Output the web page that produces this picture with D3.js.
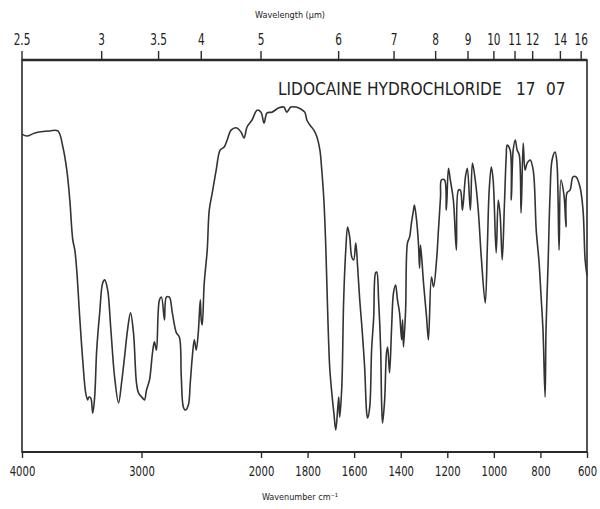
<!DOCTYPE html>
<html>
<head>
<meta charset="utf-8">
<script src="https://cdn.jsdelivr.net/npm/d3@7"></script>
<style>
html,body{margin:0;padding:0;background:#fff;}
svg{display:block;}
text{font-family:"Liberation Sans Narrow","Arial Narrow","DejaVu Sans Condensed","Liberation Sans",sans-serif;fill:#222;}
</style>
</head>
<body>
<svg id="chart" width="600" height="509"></svg>
<script>
// Wavenumber (cm-1) and transmittance (%)
const wavenumber = [4000,3958,3892,3767,3700,3658,3625,3600,3575,3558,3542,3517,3492,3467,3450,3442,3425,3408,3392,3375,3350,3325,3308,3283,3258,3225,3192,3167,3142,3117,3092,3067,3042,3025,2992,2975,2958,2933,2908,2892,2875,2850,2833,2808,2792,2767,2742,2708,2683,2667,2650,2633,2608,2592,2575,2558,2542,2525,2508,2500,2492,2475,2450,2433,2408,2375,2342,2308,2283,2250,2208,2167,2142,2117,2075,2033,2000,
1987,1974,1953,1923,1902,1889,1872,1850,1829,1812,1803,1790,1773,1760,1747,1739,1730,1722,1713,1705,1696,1687,1679,1670,1666,1662,1653,1645,1636,1628,1619,1610,1602,1593,1585,1576,1568,1555,1546,1542,1533,1525,1516,1508,1503,1495,1486,1482,1478,1469,1461,1456,1448,1439,1431,1422,1414,1405,1396,1392,1388,1379,1371,1362,1354,1345,1341,1332,1324,1319,1315,1302,1289,1281,1268,1259,1246,1238,1229,1225,1212,1204,1195,1187,1174,1161,1152,1144,1135,1122,1114,1101,1092,1080,1067,1054,1037,1028,1020,1011,1003,990,981,973,964,955,947,943,930,925,917,908,900,891,883,874,866,857,844,831,818,806,797,789,780,776,767,759,750,737,729,720,712,699,690,686,673,660,647,630,617,608,600];
const transmittance = [81.1,80.6,81.4,81.9,81.9,77.8,71.9,64.3,54.1,51.5,46.4,34.4,23.5,15.1,13.3,14.0,13.8,9.9,14.0,26.0,35.5,43.1,43.9,41.3,31.9,19.1,12.5,17.6,24.2,31.1,35.5,30.4,17.6,15.1,13.8,13.3,15.8,18.4,25.3,28.1,26.0,38.8,39.5,33.7,39.5,39.5,35.5,30.4,29.3,19.1,11.5,10.7,12.0,17.6,24.2,28.6,26.0,30.4,38.8,33.7,32.4,43.1,51.5,61.7,66.1,71.9,77.0,77.8,79.6,82.1,82.7,81.6,80.1,82.9,84.7,87.2,86.7,
83.9,86.5,86.7,87.8,88.0,86.7,88.0,88.0,87.5,86.7,84.7,83.4,82.1,80.4,77.0,71.9,64.3,52.8,34.4,21.7,15.1,9.9,5.6,11.5,14.0,8.9,16.6,38.8,51.5,57.4,54.8,49.7,49.0,53.3,47.2,38.8,32.9,21.7,9.9,8.7,11.5,26.0,34.4,45.7,45.9,38.8,26.0,12.5,7.4,13.3,25.3,26.8,20.2,31.9,40.6,42.6,38.8,35.5,28.6,33.7,26.8,36.2,53.3,54.8,58.4,61.7,63.0,59.2,53.3,46.9,52.8,43.1,34.4,28.6,44.6,42.1,49.0,56.6,65.1,69.4,69.4,61.7,72.4,69.4,64.3,51.5,66.8,66.8,61.7,70.2,72.4,61.7,73.7,69.4,61.7,49.7,38.0,52.3,66.8,72.7,69.4,50.8,64.3,60.5,49.0,62.5,75.3,78.3,77.0,64.3,77.0,79.6,77.0,75.8,61.0,78.8,71.9,73.7,74.5,71.9,56.6,48.5,39.5,31.1,14.0,31.1,48.2,65.1,74.5,76.5,73.7,51.5,69.4,65.6,57.4,66.1,66.8,70.2,70.2,67.6,61.7,49.0,45.0];

const wavenumberTicks = [4000,3000,2000,1800,1600,1400,1200,1000,800,600];
const wavelengthTicks = [2.5,3,3.5,4,5,6,7,8,9,10,11,12,14,16];
const title = "LIDOCAINE HYDROCHLORIDE";
const codeA = "17", codeB = "07";

const svg = d3.select("#chart");
const x = d3.scaleLinear().domain([4000,2000,600]).range([22,261,587]);
const y = d3.scaleLinear().domain([0,100]).range([452,60]);
const ink = "#2a2a2a";

// frame
svg.append("rect").attr("x",22).attr("y",60).attr("width",565).attr("height",392)
  .attr("fill","none").attr("stroke",ink).attr("stroke-width",1.6);
svg.append("line").attr("x1",22).attr("x2",587).attr("y1",60).attr("y2",60)
  .attr("stroke",ink).attr("stroke-width",2.4);
svg.append("line").attr("x1",22).attr("x2",587).attr("y1",452).attr("y2",452)
  .attr("stroke",ink).attr("stroke-width",2.2);

// bottom axis (wavenumber)
const bottom = d3.axisBottom(x).tickValues(wavenumberTicks).tickSize(6).tickPadding(8).tickFormat(d3.format("d"));
const gb = svg.append("g").attr("transform","translate(0,452)").call(bottom);
gb.select(".domain").remove();
gb.selectAll(".tick line").attr("stroke",ink).attr("stroke-width",1.4);
gb.selectAll(".tick text").attr("font-size",14).attr("fill",ink)
  .attr("transform","scale(0.8,1)").attr("x",0);

// top axis (wavelength)
const xw = um => x(10000/um);
const gt = svg.append("g").attr("transform","translate(0,60)");
gt.selectAll("line").data(wavelengthTicks).join("line")
  .attr("x1",d=>xw(d)).attr("x2",d=>xw(d)).attr("y1",-9).attr("y2",0)
  .attr("stroke",ink).attr("stroke-width",1.4);
gt.selectAll("text").data(wavelengthTicks).join("text")
  .attr("transform",d=>`translate(${xw(d)},-15) scale(0.78,1)`)
  .attr("text-anchor","middle").attr("font-size",15).attr("fill",ink)
  .text(d=>String(d));

svg.append("text").attr("x",290).attr("y",18).attr("text-anchor","middle")
  .attr("font-size",9).attr("fill","#555").text("Wavelength (µm)");
svg.append("text").attr("x",300).attr("y",500).attr("text-anchor","middle")
  .attr("font-size",9).attr("fill","#555").text("Wavenumber   cm⁻¹");

// title
svg.append("text").attr("transform","translate(278,95) scale(0.95,1)")
  .attr("font-size",18).attr("fill",ink).text(title);
svg.append("text").attr("transform","translate(516,95) scale(0.95,1)")
  .attr("font-size",18).attr("fill",ink).text(codeA);
svg.append("text").attr("transform","translate(546,95) scale(0.95,1)")
  .attr("font-size",18).attr("fill",ink).text(codeB);

// spectrum
const data = wavenumber.map((w,i)=>({w,t:transmittance[i]}));
const line = d3.line().x(d=>x(d.w)).y(d=>y(d.t)).curve(d3.curveCatmullRom.alpha(0.5));
svg.append("path").datum(data).attr("d",line).attr("fill","none")
  .attr("stroke","#333").attr("stroke-width",1.6).attr("stroke-linejoin","round");
</script>
</body>
</html>
